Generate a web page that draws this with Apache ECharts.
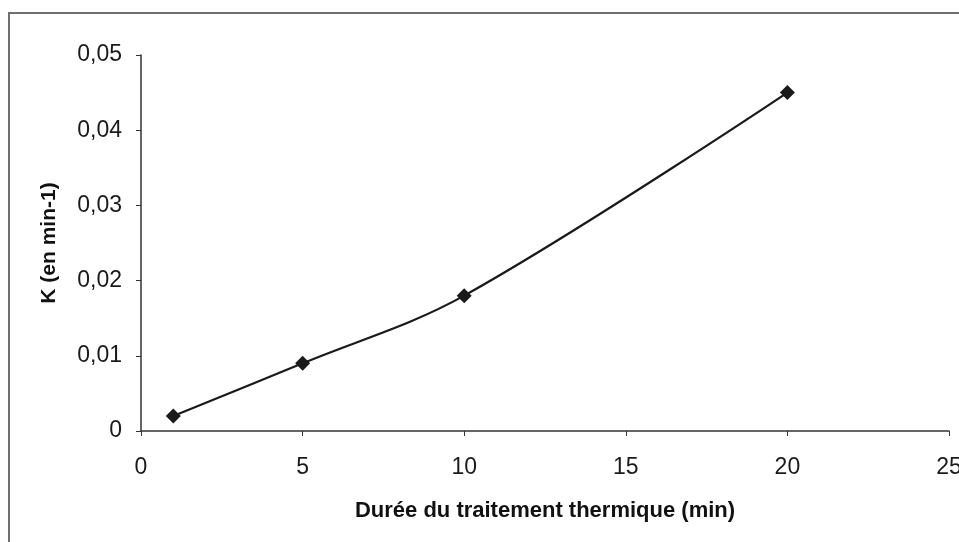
<!DOCTYPE html>
<html>
<head>
<meta charset="utf-8">
<script src="https://cdn.jsdelivr.net/npm/echarts@6/dist/echarts.min.js"></script>
<style>
  html, body { margin: 0; padding: 0; background: #fff; }
  #chart { width: 959px; height: 542px; }
</style>
</head>
<body>
<div id="chart"></div>
<script>
// durée du traitement (min) et constante K (min-1)
var durees = [1, 5, 10, 20];
var kValues = [0.002, 0.009, 0.018, 0.045];

var points = [];
for (var i = 0; i < durees.length; i++) {
  points.push([durees[i], kValues[i]]);
}

var chart = echarts.init(document.getElementById('chart'));
chart.setOption({
  animation: false,
  backgroundColor: '#fff',
  textStyle: { fontFamily: 'Liberation Sans, Arial, sans-serif' },
  graphic: [{
    type: 'rect',
    shape: { x: 9, y: 13, width: 960, height: 540 },
    style: { fill: 'none', stroke: '#6f6f6f', lineWidth: 2 }
  }],
  grid: { left: 141, right: 10, top: 55, bottom: 111, outerBoundsMode: 'none' },
  xAxis: {
    type: 'value',
    min: 0, max: 25, interval: 5,
    name: 'Durée du traitement thermique (min)',
    nameLocation: 'middle',
    nameGap: 69,
    nameTextStyle: { fontSize: 22, fontWeight: 'bold', color: '#111' },
    axisLine: { lineStyle: { color: '#333', width: 1.5 } },
    axisTick: { show: true, length: 5, lineStyle: { color: '#333' } },
    axisLabel: { fontSize: 23, color: '#1a1a1a', margin: 25, hideOverlap: false },
    splitLine: { show: false }
  },
  yAxis: {
    type: 'value',
    min: 0, max: 0.05, interval: 0.01,
    name: 'K (en min-1)',
    nameLocation: 'middle',
    nameGap: 81,
    nameTextStyle: { fontSize: 21, fontWeight: 'bold', color: '#111' },
    axisLine: { show: true, lineStyle: { color: '#333', width: 1.5 } },
    axisTick: { show: true, length: 5, lineStyle: { color: '#333' } },
    axisLabel: {
      fontSize: 23, color: '#1a1a1a', margin: 19,
      formatter: function (v) { return v === 0 ? '0' : v.toFixed(2).replace('.', ','); }
    },
    splitLine: { show: false }
  },
  series: [{
    type: 'line',
    data: points,
    smooth: 0.35,
    symbol: 'diamond',
    symbolSize: 15,
    lineStyle: { color: '#1a1a1a', width: 2.2 },
    itemStyle: { color: '#1a1a1a' }
  }]
});
</script>
</body>
</html>
